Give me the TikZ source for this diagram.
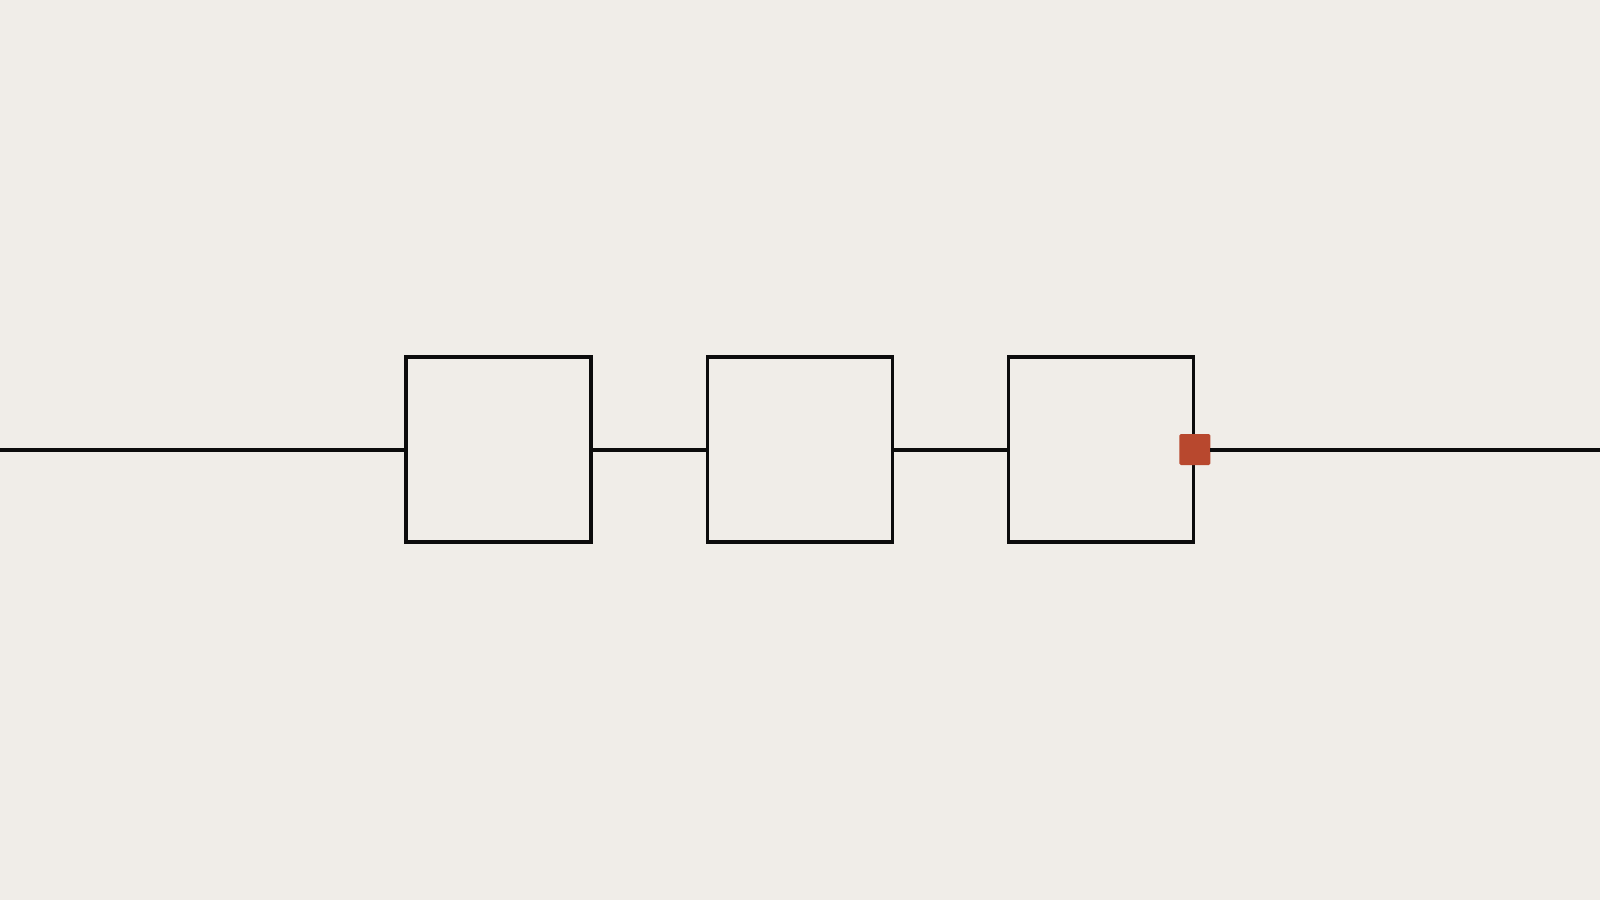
\documentclass[tikz,border=0pt]{standalone}
\definecolor{bg}{RGB}{240,237,232}
\definecolor{accent}{RGB}{184,72,46}
\definecolor{ink}{RGB}{12,12,12}
\begin{document}
\begin{tikzpicture}[x=1pt,y=-1pt,
  blockbox/.style={draw=ink,line width=3.5pt,minimum width=185pt,minimum height=185pt,inner sep=0pt,fill=bg},
  wire/.style={draw=ink,line width=4pt},
  marker/.style={fill=accent,draw=none,minimum size=31pt,inner sep=0pt,rounded corners=1.5pt}]
\fill[bg] (0,0) rectangle (1600,900);
\useasboundingbox (0,0) rectangle (1600,900);
\coordinate (lft) at (0,449.5);
\coordinate (rgt) at (1600,449.5);
\node[blockbox] (b1) at (498.5,449.5) {};
\node[blockbox] (b2) at (800,449.5) {};
\node[blockbox] (b3) at (1101,449.5) {};
\draw[wire] (lft) -- (b1.west);
\draw[wire] (b1.east) -- (b2.west);
\draw[wire] (b2.east) -- (b3.west);
\node[marker] (m) at ([xshift=-0.5pt]b3.east) {};
\draw[wire] (m.east) -- (rgt);
\end{tikzpicture}
\end{document}
